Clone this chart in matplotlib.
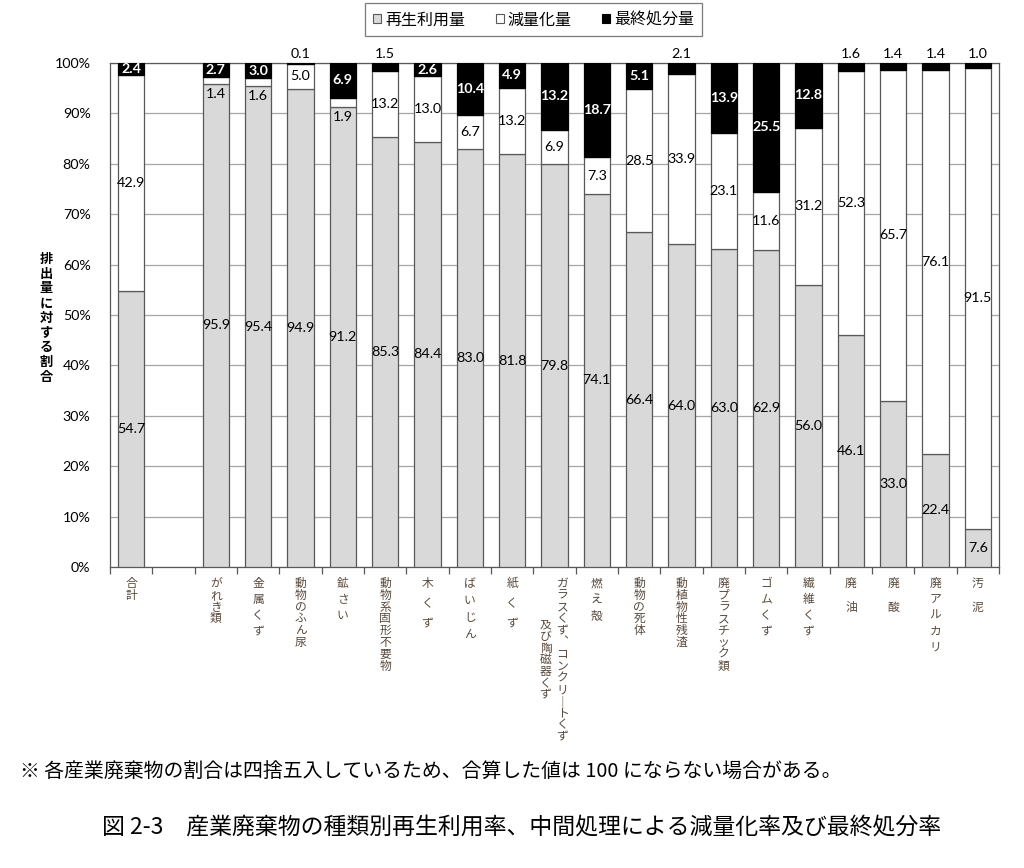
import matplotlib
matplotlib.use("Agg")
import matplotlib.pyplot as plt
from matplotlib.patches import Patch
from matplotlib.transforms import offset_copy
import numpy as np

plt.rcParams['font.family'] = ['Lato', 'Noto Sans CJK JP', 'DejaVu Sans']
JP = ['Noto Sans CJK JP', 'DejaVu Sans']

# categories (slot 1 is left empty in the original chart)
categories = ['合計', '', 'がれき類', '金属くず', '動物のふん尿', '鉱さい', '動物系固形不要物',
              '木くず', 'ばいじん', '紙くず', 'ガラスくず︑コンクリ｜トくず\n及び陶磁器くず',
              '燃え殻', '動物の死体', '動植物性残渣', '廃プラスチック類', 'ゴムくず',
              '繊維くず', '廃油', '廃酸', '廃アルカリ', '汚泥']
recycled = [54.7, None, 95.9, 95.4, 94.9, 91.2, 85.3, 84.4, 83.0, 81.8, 79.8,
            74.1, 66.4, 64.0, 63.0, 62.9, 56.0, 46.1, 33.0, 22.4, 7.6]
reduced = [42.9, None, 1.4, 1.6, 5.0, 1.9, 13.2, 13.0, 6.7, 13.2, 6.9,
           7.3, 28.5, 33.9, 23.1, 11.6, 31.2, 52.3, 65.7, 76.1, 91.5]
landfill = [2.4, None, 2.7, 3.0, 0.1, 6.9, 1.5, 2.6, 10.4, 4.9, 13.2,
            18.7, 5.1, 2.1, 13.9, 25.5, 12.8, 1.6, 1.4, 1.4, 1.0]
series_names = ['再生利用量', '減量化量', '最終処分量']

# vertical label character pitch in pixels (layout only)
pitch = {'金属くず': 16, '鉱さい': 16, '木くず': 20, 'ばいじん': 17, '紙くず': 20,
         '燃え殻': 16, 'ゴムくず': 16, '繊維くず': 16, '廃油': 24, '廃酸': 24,
         '廃アルカリ': 16, '汚泥': 24}

GREY = '#d9d9d9'
EDGE = '#595959'

fig = plt.figure(figsize=(10.24, 8.68), dpi=100)
ax = fig.add_axes([0.1074, 0.3468, 0.8682, 0.5806])

idx = [i for i, v in enumerate(recycled) if v is not None]
r = np.array([recycled[i] for i in idx])
w = np.array([reduced[i] for i in idx])
b = np.array([landfill[i] for i in idx])
tot = r + w + b
rn, wn, bn = r / tot * 100, w / tot * 100, b / tot * 100

bw = 0.62
ax.bar(idx, rn, bw, color=GREY, edgecolor=EDGE, linewidth=0.9, zorder=3)
ax.bar(idx, wn, bw, bottom=rn, color='white', edgecolor=EDGE, linewidth=0.9, zorder=3)
ax.bar(idx, bn, bw, bottom=rn + wn, color='black', edgecolor='black', linewidth=0.9, zorder=3)

fs = 10.3
for k, x in enumerate(idx):
    ax.text(x, rn[k] / 2, f'{r[k]:.1f}', ha='center', va='center', fontsize=fs, zorder=4)
    if w[k] < 3:
        ax.text(x, rn[k] - 2.0, f'{w[k]:.1f}', ha='center', va='center', fontsize=fs, zorder=4)
    else:
        ax.text(x, rn[k] + wn[k] / 2, f'{w[k]:.1f}', ha='center', va='center', fontsize=fs, zorder=4)
    if b[k] < 2.3:
        ax.text(x, 101.8, f'{b[k]:.1f}', ha='center', va='center', fontsize=fs, zorder=4,
                clip_on=False)
    else:
        ax.text(x, rn[k] + wn[k] + bn[k] / 2, f'{b[k]:.1f}', ha='center', va='center',
                fontsize=fs, color='white', fontweight='bold', zorder=4)

ax.set_xlim(-0.5, len(categories) - 0.5)
ax.set_ylim(0, 100)
ax.set_yticks(np.arange(0, 101, 10))
ax.set_yticklabels([f'{v}%' for v in range(0, 101, 10)], fontsize=fs)
ax.yaxis.grid(True, color='#a6a6a6', linewidth=0.9, zorder=0)
ax.tick_params(axis='y', length=0, pad=14)
ax.set_xticks(np.arange(-0.5, len(categories), 1.0))
ax.set_xticklabels([])
ax.tick_params(axis='x', direction='out', length=5, width=0.9, color=EDGE)
for s in ax.spines.values():
    s.set_color(EDGE)
    s.set_linewidth(0.9)

# vertical category labels, one character at a time
for i, lab in enumerate(categories):
    if not lab:
        continue
    cols = lab.split('\n')
    p = pitch.get(lab, 11.8)
    for c, col in enumerate(cols):
        dx = 8 - 17 * c if len(cols) > 1 else 0
        start = 10 + (41 if c > 0 else 0)
        for j, ch in enumerate(col):
            tr = offset_copy(ax.get_xaxis_transform(), fig=fig, x=dx,
                             y=-(start + j * p), units='dots')
            ax.text(i, 0, ch, transform=tr, ha='center', va='top', fontsize=8.5,
                    family=JP, color='#5a4a3c')

# y-axis label, vertical
ylab = '排出量に対する割合'
for j, ch in enumerate(ylab):
    fig.text(46 / 1024, 1 - (252 + j * 14.7) / 868, ch, ha='center', va='top',
             fontsize=9.5, family=JP, fontweight='bold')

handles = [Patch(facecolor=GREY, edgecolor=EDGE, linewidth=0.8),
           Patch(facecolor='white', edgecolor=EDGE, linewidth=0.8),
           Patch(facecolor='black', edgecolor='black', linewidth=0.8)]
leg = fig.legend(handles, series_names, loc='center', bbox_to_anchor=(0.521, 0.977),
                 ncol=3, fancybox=False, handlelength=0.5, handleheight=0.5,
                 handletextpad=0.25, columnspacing=1.9, borderpad=0.5,
                 prop={'family': JP, 'size': 11.5})
leg.get_frame().set_edgecolor(EDGE)
leg.get_frame().set_linewidth(0.9)

fig.text(20 / 1024, 1 - 772 / 868,
         '※ 各産業廃棄物の割合は四捨五入しているため、合算した値は 100 にならない場合がある。',
         ha='left', va='center', fontsize=14.3, family=JP)
fig.text(522 / 1024, 1 - 828 / 868,
         '図 2-3　産業廃棄物の種類別再生利用率、中間処理による減量化率及び最終処分率',
         ha='center', va='center', fontsize=16.5, family=JP)

fig.savefig('out.png', dpi=100)
